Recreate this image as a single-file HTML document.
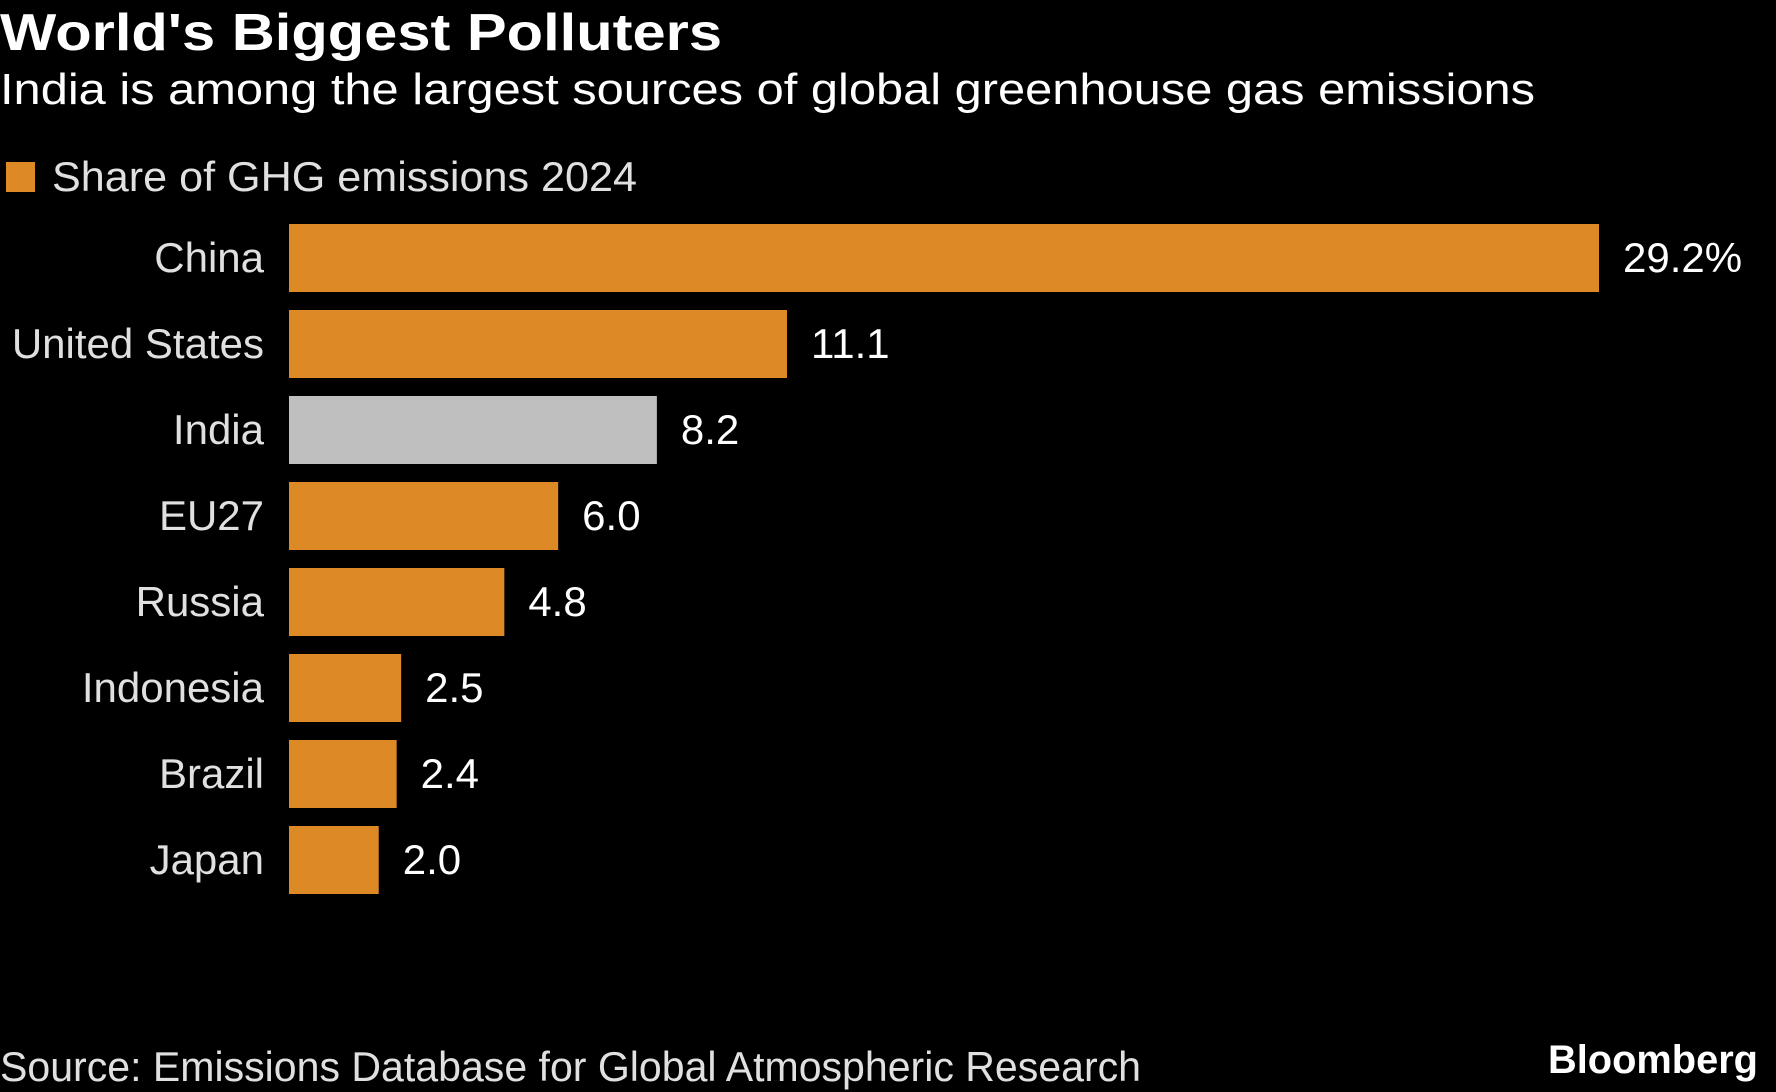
<!DOCTYPE html>
<html><head><meta charset="utf-8"><style>
html,body{margin:0;padding:0;background:#000;width:1776px;height:1092px;overflow:hidden}
svg text{font-family:"Liberation Sans Narrow","Liberation Sans",sans-serif}
</style></head><body>
<svg id="chart" width="1776" height="1092" viewBox="0 0 1776 1092" xmlns="http://www.w3.org/2000/svg">
<rect width="1776" height="1092" fill="#000"/>
<text x="0" y="50" fill="#fff" font-size="52" font-weight="bold" textLength="722" lengthAdjust="spacingAndGlyphs">World's Biggest Polluters</text>
<text x="0" y="104" fill="#fff" font-size="44" textLength="1535" lengthAdjust="spacingAndGlyphs">India is among the largest sources of global greenhouse gas emissions</text>
<rect x="6" y="162" width="29" height="30" fill="#DD8926"/>
<text x="52" y="191" fill="#e0e0e0" font-size="42" textLength="585" lengthAdjust="spacingAndGlyphs">Share of GHG emissions 2024</text>
<g id="bars"></g>
<text x="0" y="1081" fill="#e0e0e0" font-size="42" textLength="1141" lengthAdjust="spacingAndGlyphs">Source: Emissions Database for Global Atmospheric Research</text>
<text x="1758" y="1073" text-anchor="end" fill="#fff" font-size="40" font-weight="bold" textLength="210" lengthAdjust="spacingAndGlyphs">Bloomberg</text>
</svg>
<script>
const categories = ["China","United States","India","EU27","Russia","Indonesia","Brazil","Japan"];
const values = [29.2,11.1,8.2,6.0,4.8,2.5,2.4,2.0];
const valueLabels = ["29.2%","11.1","8.2","6.0","4.8","2.5","2.4","2.0"];
const highlighted = ["India"];

const x0 = 289, pxPerUnit = (1599 - 289) / 29.2;
const rowTop = 224, rowPitch = 86, barH = 68;
function xScale(v){ return x0 + v * pxPerUnit; }
function yScale(i){ return rowTop + i * rowPitch; }

const ns = "http://www.w3.org/2000/svg";
const g = document.getElementById("bars");
categories.forEach((c, i) => {
  const y = yScale(i);
  const r = document.createElementNS(ns, "rect");
  r.setAttribute("x", x0);
  r.setAttribute("y", y);
  r.setAttribute("width", xScale(values[i]) - x0);
  r.setAttribute("height", barH);
  r.setAttribute("fill", highlighted.includes(c) ? "#BFBFBF" : "#DD8926");
  
  
  g.appendChild(r);

  const lbl = document.createElementNS(ns, "text");
  lbl.setAttribute("x", 264);
  lbl.setAttribute("y", y + barH / 2 + 14);
  lbl.setAttribute("text-anchor", "end");
  lbl.setAttribute("fill", "#e0e0e0");
  lbl.setAttribute("font-size", "42");
  lbl.textContent = c;
  
  
  g.appendChild(lbl);

  const vl = document.createElementNS(ns, "text");
  vl.setAttribute("x", xScale(values[i]) + 24);
  vl.setAttribute("y", y + barH / 2 + 14);
  vl.setAttribute("fill", "#fff");
  vl.setAttribute("font-size", "42");
  vl.textContent = valueLabels[i];
  
  
  g.appendChild(vl);
});
</script>
</body></html>
